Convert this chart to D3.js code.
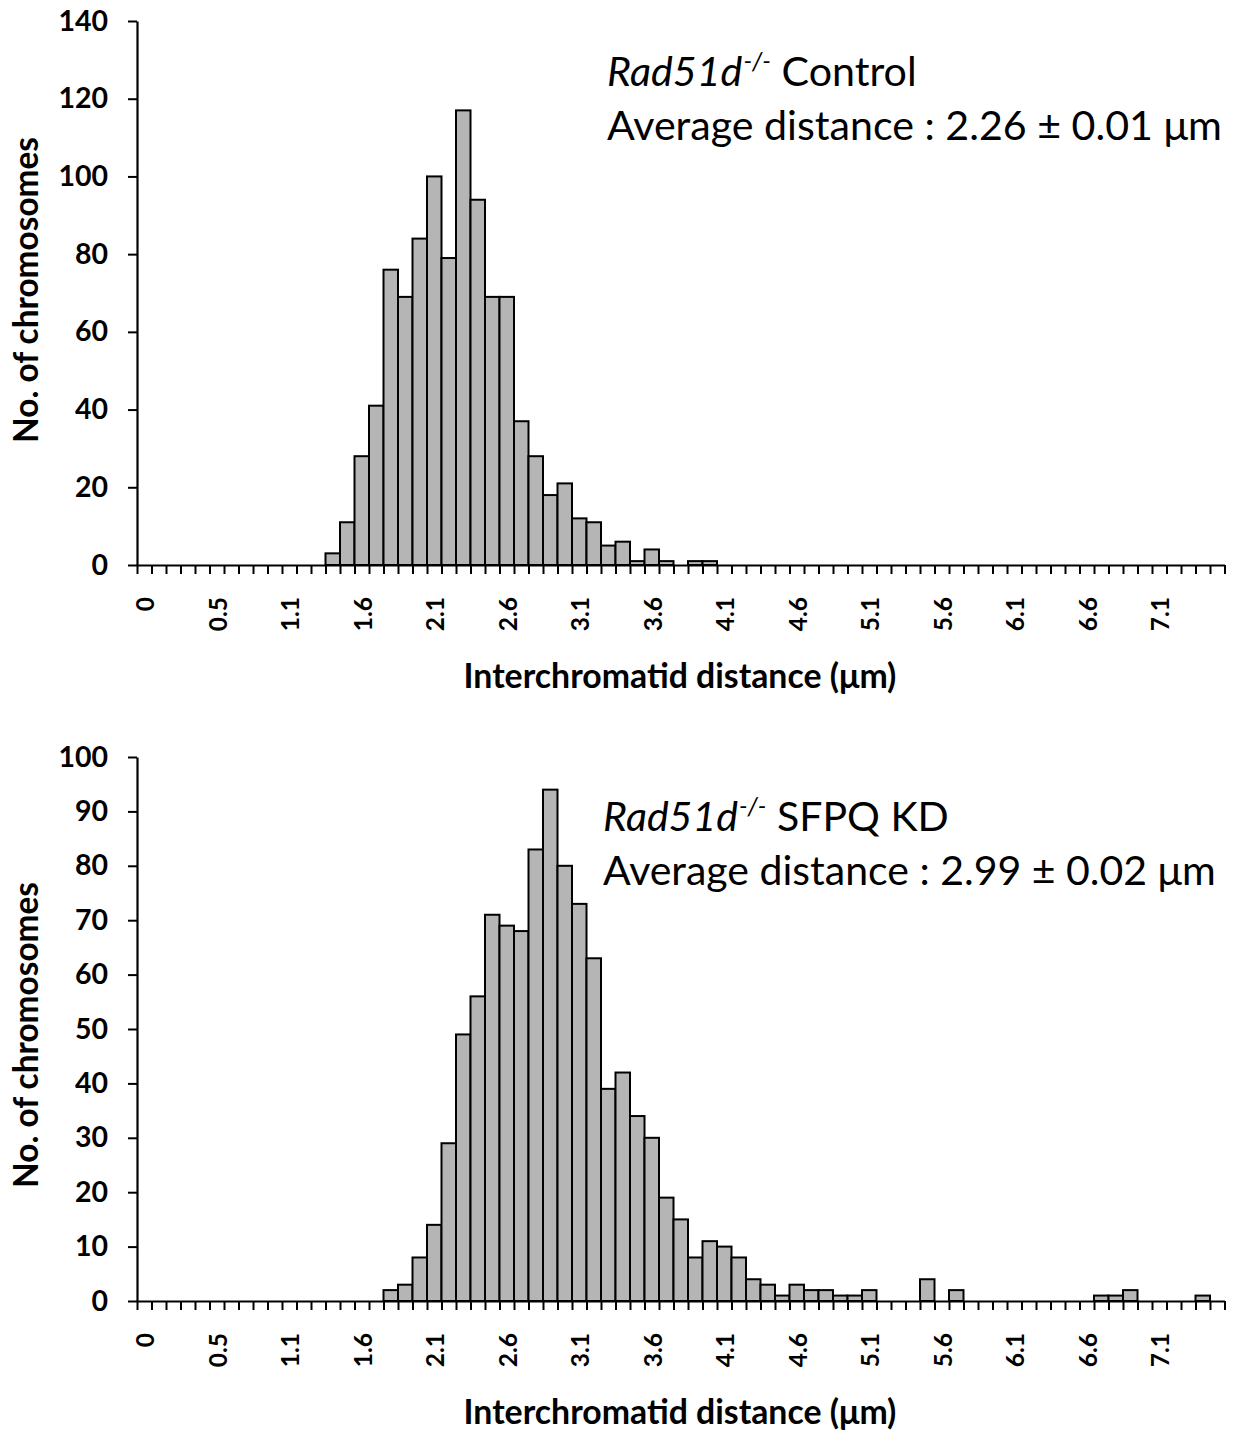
<!DOCTYPE html>
<html>
<head>
<meta charset="utf-8">
<script src="https://cdn.jsdelivr.net/npm/d3@7/dist/d3.min.js"></script>
<style>
  html, body { margin: 0; padding: 0; background: #fff; }
  svg { display: block; }
  text { fill: #000; }
</style>
</head>
<body>
<svg id="chart" width="1233" height="1431"></svg>
<script>
// ---------------- DATA ----------------
// 75 histogram bins; labels shown on every 5th bin
const tickLabels = ["0","0.5","1.1","1.6","2.1","2.6","3.1","3.6","4.1","4.6","5.1","5.6","6.1","6.6","7.1"];

// Rad51d-/- Control : counts per bin (bins 0..74)
const controlCounts = [
  0,0,0,0,0,0,0,0,0,0,0,0,0,
  3,11,28,41,76,69,84,100,79,117,94,69,69,37,28,18,21,12,11,5,6,1,4,1,0,1,1,
  0,0,0,0,0,0,0,0,0,0,0,0,0,0,0,0,0,0,0,0,0,0,0,0,0,0,0,0,0,0,0,0,0,0,0
];

// Rad51d-/- SFPQ KD : counts per bin (bins 0..74)
const kdCounts = [
  0,0,0,0,0,0,0,0,0,0,0,0,0,0,0,0,0,
  2,3,8,14,29,49,56,71,69,68,83,94,80,73,63,39,42,34,30,19,15,8,11,10,8,4,3,1,3,2,2,1,1,2,
  0,0,0,4,0,2,0,0,0,0,0,0,0,0,0,1,1,2,0,0,0,0,1,0
];

const panelTitles = [
  {gene: "Rad51d", sup: "-/-", rest: " Control", avg: "Average distance : 2.26 \u00B1 0.01 \u03BCm"},
  {gene: "Rad51d", sup: "-/-", rest: " SFPQ KD", avg: "Average distance : 2.99 \u00B1 0.02 \u03BCm"}
];
const yMaxes = [140, 100];
const ySteps = [20, 10];
const xTitle = "Interchromatid distance (\u03BCm)";
const yTitle = "No. of chromosomes";

// ---------------- LAYOUT ----------------
const svg = d3.select("#chart");
const FONT = "Lato, 'Open Sans', sans-serif";
const left = 137, right = 1224.5;

const panels = [
  {data: controlCounts, top: 21, base: 565, labelY: 597, xTitleY: 688, yTitleCY: 290,
   annX: 607, ann1Y: 86, ann2Y: 140},
  {data: kdCounts, top: 757, base: 1301, labelY: 1333, xTitleY: 1424, yTitleCY: 1035,
   annX: 603, ann1Y: 831, ann2Y: 885}
];

function fitWidth(sel, target) {
  const node = sel.node();
  const w = node.getComputedTextLength();
  const fs = parseFloat(sel.attr("font-size"));
  sel.attr("font-size", fs * target / w);
}

panels.forEach((p, pi) => {
  const nBins = p.data.length;
  const g = svg.append("g");
  const xBand = d3.scaleBand().domain(d3.range(nBins)).range([left, right]).padding(0);
  const xEdge = d3.scaleLinear().domain([0, nBins]).range([left, right]);
  const y = d3.scaleLinear().domain([0, yMaxes[pi]]).range([p.base, p.top]);

  // bars
  g.append("g").selectAll("rect")
    .data(p.data.map((v, i) => ({i, v})).filter(d => d.v > 0))
    .join("rect")
    .attr("x", d => xBand(d.i))
    .attr("width", xBand.bandwidth())
    .attr("y", d => y(d.v))
    .attr("height", d => y(0) - y(d.v))
    .attr("fill", "#b5b5b5")
    .attr("stroke", "#000")
    .attr("stroke-width", 2);

  // y axis
  const yAxis = g.append("g")
    .attr("transform", `translate(${left},0)`)
    .call(d3.axisLeft(y).tickValues(d3.range(0, yMaxes[pi] + 0.001, ySteps[pi]))
      .tickSize(9).tickSizeOuter(0).tickPadding(20).tickFormat(d3.format("d")));
  yAxis.select(".domain").attr("stroke-width", 2.2);
  yAxis.selectAll(".tick line").attr("stroke-width", 2);
  yAxis.selectAll("text").attr("font-family", FONT).attr("font-weight", "bold")
    .attr("font-size", 28.5).attr("fill", "#000");

  // x axis (ticks at bin edges)
  const xAxis = g.append("g")
    .attr("transform", `translate(0,${p.base})`)
    .call(d3.axisBottom(xEdge).tickValues(d3.range(nBins + 1)).tickSize(9).tickSizeOuter(0).tickFormat(""));
  xAxis.select(".domain").attr("stroke-width", 2.2);
  xAxis.selectAll(".tick line").attr("stroke-width", 2);

  // x tick labels (every 5th bin)
  const labelBins = tickLabels.map((t, k) => k * 5);
  g.append("g").selectAll("text")
    .data(labelBins)
    .join("text")
    .attr("transform", (d) => `translate(${xBand(d) + xBand.bandwidth() / 2 + 1},${p.labelY}) rotate(-90)`)
    .attr("text-anchor", "end")
    .attr("dy", "0.36em")
    .attr("font-family", FONT).attr("font-weight", "bold").attr("font-size", 24.5)
    .text((d, k) => tickLabels[k]);

  // x title
  const xt = g.append("text")
    .attr("x", 680).attr("y", p.xTitleY)
    .attr("text-anchor", "middle")
    .attr("font-family", FONT).attr("font-weight", "bold").attr("font-size", 30)
    .text(xTitle);
  fitWidth(xt, 433);

  // y title
  const yt = g.append("text")
    .attr("transform", `translate(38,${p.yTitleCY}) rotate(-90)`)
    .attr("text-anchor", "middle")
    .attr("font-family", FONT).attr("font-weight", "bold").attr("font-size", 30)
    .text(yTitle);
  fitWidth(yt, 306);

  // annotation
  const t = panelTitles[pi];
  const a2 = g.append("text")
    .attr("x", p.annX).attr("y", p.ann2Y)
    .attr("font-family", FONT).attr("font-size", 40)
    .text(t.avg);
  fitWidth(a2, pi === 0 ? 615 : 613);
  const fs = parseFloat(a2.attr("font-size"));
  const a1 = g.append("text")
    .attr("x", p.annX).attr("y", p.ann1Y)
    .attr("font-family", FONT).attr("font-size", fs);
  a1.append("tspan").attr("font-style", "italic").text(t.gene);
  a1.append("tspan").attr("font-style", "italic").attr("font-size", fs * 0.6)
    .attr("dx", 1).attr("dy", -fs * 0.38).text(t.sup);
  a1.append("tspan").attr("dy", fs * 0.38).text(t.rest);
});
</script>
</body>
</html>
